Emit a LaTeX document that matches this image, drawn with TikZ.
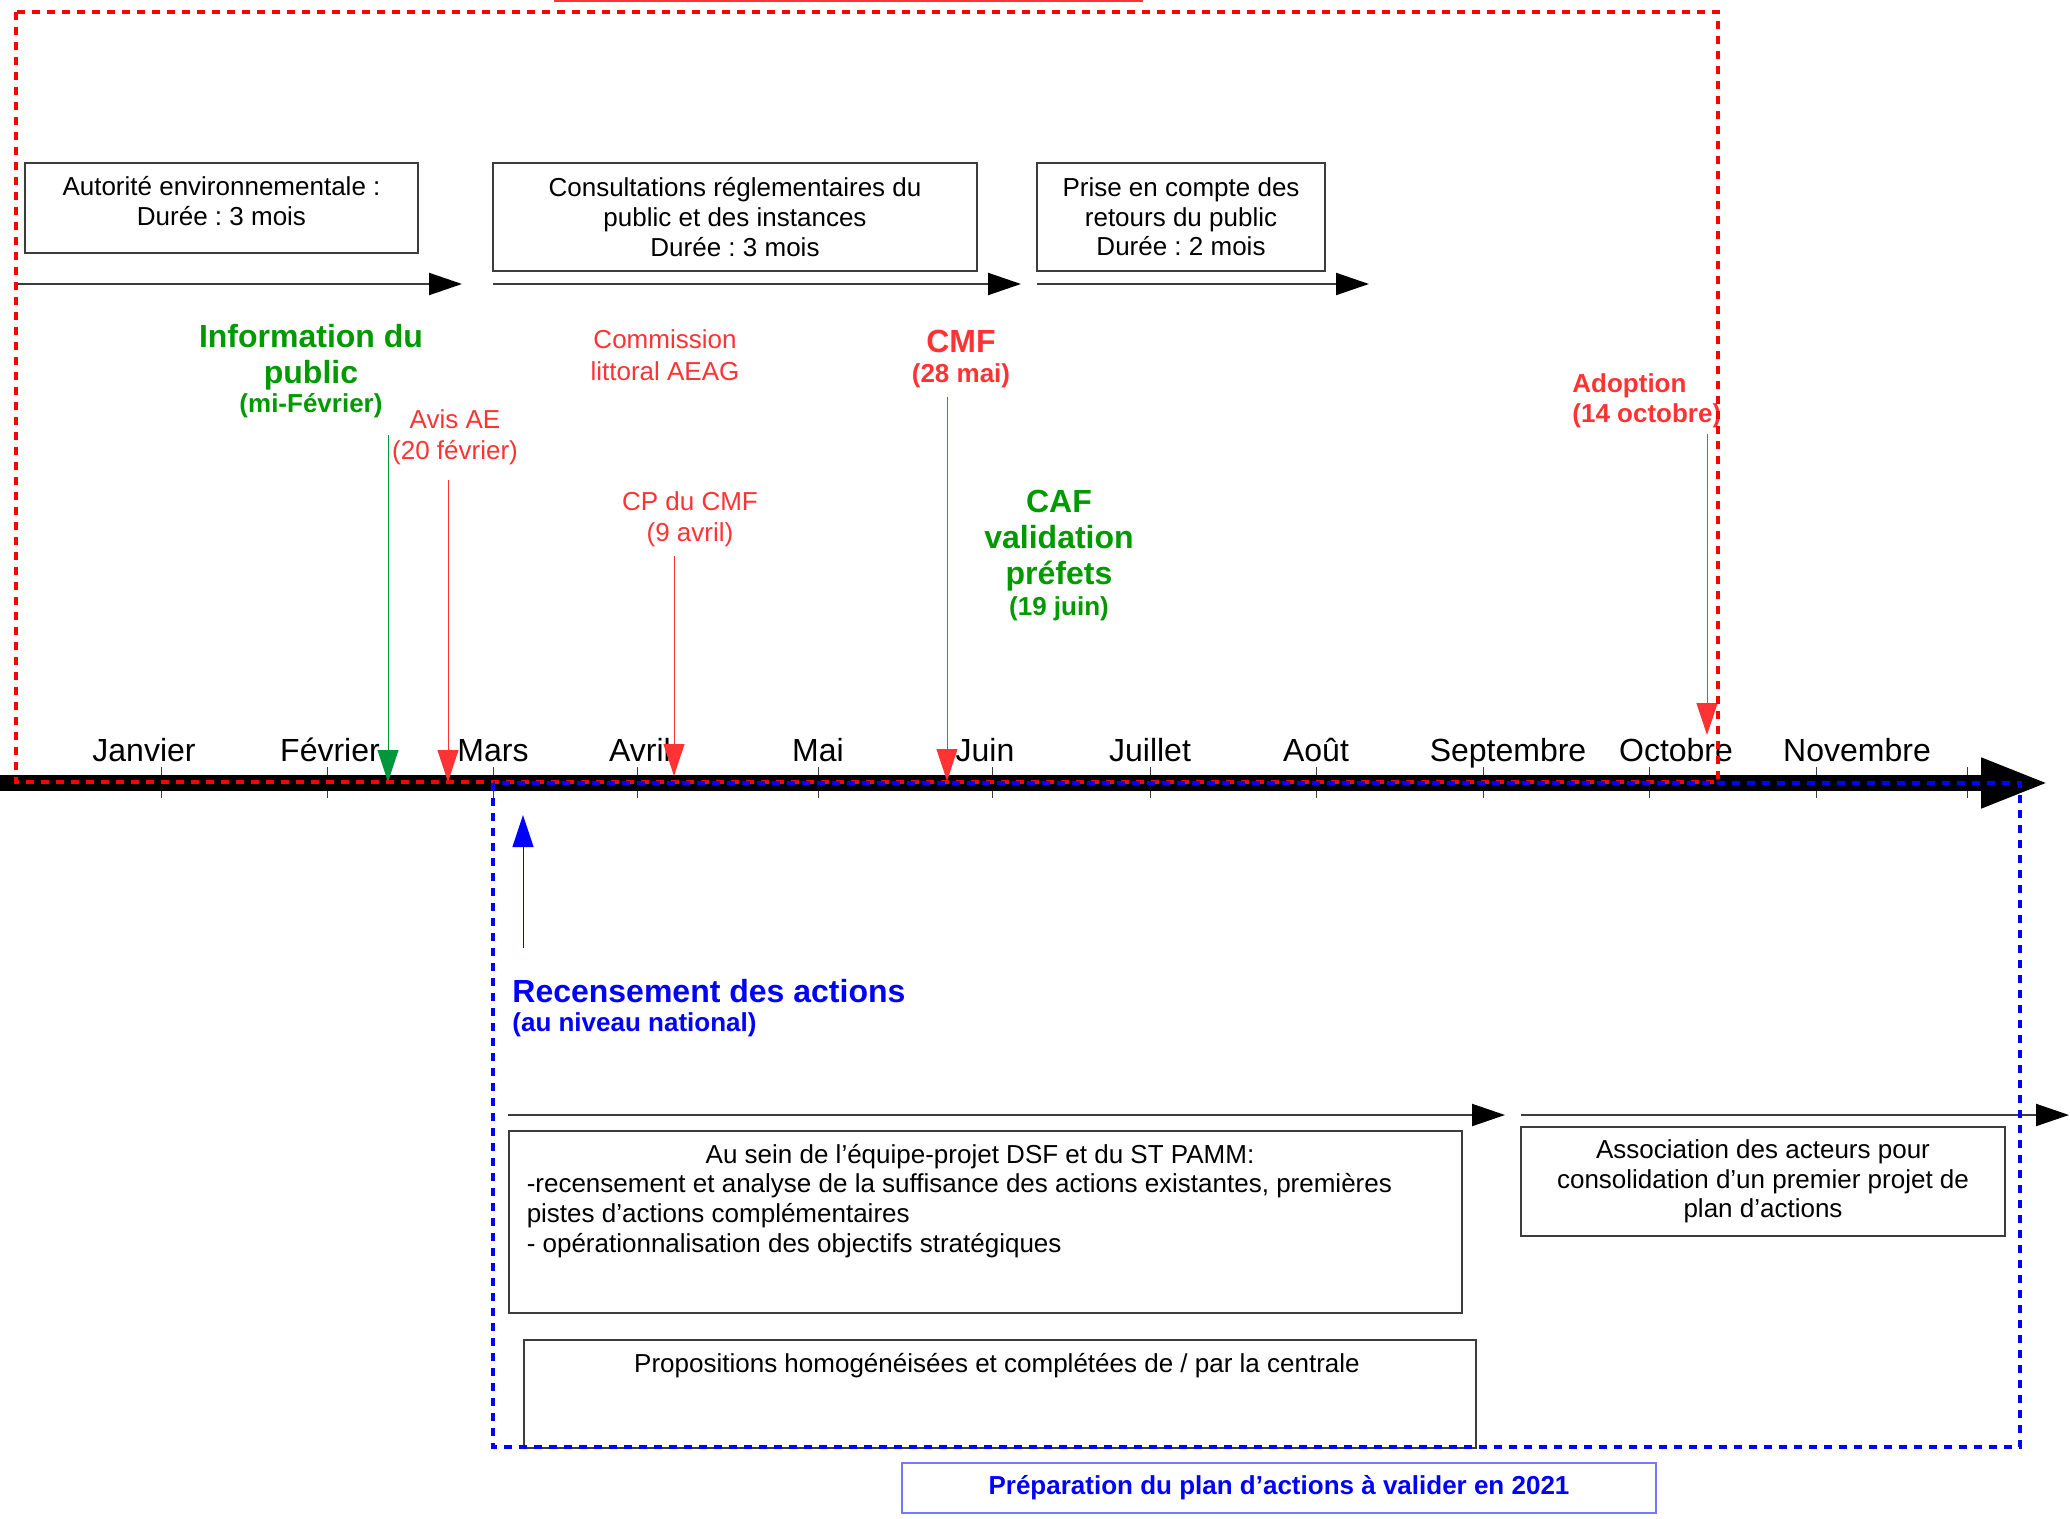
\documentclass[tikz,border=0pt]{standalone}
\usepackage{fontspec}
\setmainfont{Liberation Sans}
\usetikzlibrary{arrows.meta, positioning, calc}
\definecolor{evred}{RGB}{255,51,51}
\definecolor{evgreen}{RGB}{0,153,0}
\definecolor{argreen}{RGB}{0,150,60}
\definecolor{evblue}{RGB}{0,0,255}
\definecolor{boxgray}{RGB}{60,60,60}
\definecolor{lilac}{RGB}{120,120,255}
\newcommand{\txtn}{\fontsize{13}{14.8}\selectfont}
\newcommand{\txtb}{\fontsize{16}{18}\selectfont\bfseries}
\frenchspacing

\begin{document}
\begin{tikzpicture}[
        x=0.5pt, y=-0.5pt,
        box/.style={draw=boxgray, line width=0.75pt, inner sep=0pt, align=center, font=\txtn},
        txt/.style={inner sep=0pt, align=center, font=\fontsize{13}{15.5}\selectfont},
        month/.style={inner sep=0pt, font=\fontsize{16}{18}\selectfont},
        period/.style={draw=boxgray, line width=1pt, -{Triangle[length=16.5pt, width=11pt, color=black]}},
        event/.style={line width=0.5pt, -{Triangle[length=16pt, width=10.5pt]}},
        timeaxis/.style={line width=8pt, -{Triangle[length=34pt, width=23pt]}},
        tickmark/.style={draw=boxgray, line width=0.5pt},
        cadre/.style={line width=2pt, dash pattern=on 4pt off 3.5pt}
    ]
    \useasboundingbox (0,0) rectangle (2070,1519);
    \draw[evred, line width=1pt] (554,1) -- (1143,1);

    \node[box, minimum width=196.5pt, minimum height=45pt] (aut) at (221.5,208) {Autorité environnementale :\\Durée : 3 mois\\[-8pt]};
    \node[box, minimum width=242pt, minimum height=54pt] (cons) at (735,217) {Consultations réglementaires du\\public et des instances\\Durée : 3 mois};
    \node[box, minimum width=144pt, minimum height=54pt] (prise) at (1181,217) {Prise en compte des\\retours du public\\Durée : 2 mois};

    \coordinate (t1a) at (15,284);   \coordinate (t1b) at (462,284);
    \coordinate (t2a) at (493,284);  \coordinate (t2b) at (1021,284);
    \coordinate (t3a) at (1037,284); \coordinate (t3b) at (1369,284);
    \draw[period] (t1a) -- (t1b);
    \draw[period] (t2a) -- (t2b);
    \draw[period] (t3a) -- (t3b);

    \foreach \t in {161,327,493,637,818,992,1150,1316,1483,1649,1816,1967}
        \draw[tickmark] (\t,767) -- (\t,798);
    \coordinate (ax0) at (0,783);
    \coordinate (ax1) at (2049,783);
    \draw[timeaxis] (ax0) -- (ax1);
    \foreach \c/\m [count=\i] in {144/Janvier, 330/Février, 493/Mars, 640/Avril, 818/Mai, 985/Juin, 1150/Juillet, 1316/Août, 1508/Septembre, 1676/Octobre, 1857/Novembre}
        \node[month, anchor=base] (mois\i) at (\c,761) {\m};

    \node[txt, text=evgreen, font=\txtb] (info) at (311,371) {Information du\\public\\[-3.5pt]{\fontsize{13}{15}\selectfont (mi-Février)}};
    \node[txt, text=evred] (comm) at (665,355) {Commission\\[0.5pt]littoral AEAG};
    \node[txt, text=evred, font=\txtb] (cmf) at (961,359) {CMF\\[-3pt]{\fontsize{13}{15}\selectfont (28 mai)}};
    \node[txt, text=evred] (avis) at (455,437) {Avis AE\\(20 février)};
    \node[txt, text=evred] (cp) at (690,519) {CP du CMF\\(9 avril)};
    \node[txt, text=evgreen, font=\txtb] (caf) at (1059,556) {CAF\\validation\\préfets\\[-2.5pt]{\fontsize{13}{15}\selectfont (19 juin)}};
    \node[txt, text=evred, font=\fontsize{13}{15}\selectfont\bfseries, align=left, anchor=west] (adop) at (1572,401) {Adoption\\(14 octobre)};

    \coordinate (e1a) at (388,435);  \coordinate (e1b) at (388,782);
    \coordinate (e2a) at (448,480);  \coordinate (e2b) at (448,782);
    \coordinate (e3a) at (674,556);  \coordinate (e3b) at (674,776);
    \coordinate (e4a) at (947,397);  \coordinate (e4b) at (947,781);
    \coordinate (e5a) at (1707,434); \coordinate (e5b) at (1707,735);
    \coordinate (e6a) at (523,948);  \coordinate (e6b) at (523,815);
    \draw[event, argreen] (e1a) -- (e1b);
    \draw[event, evred] (e2a) -- (e2b);
    \draw[event, evred] (e3a) -- (e3b);
    \draw[event, evred] (e4a) -- (e4b);
    \draw[event, evred] (e5a) -- (e5b);
    \draw[event, evblue] (e6a) -- (e6b);

    \node[txt, text=evblue, font=\txtb, align=left, anchor=west] (rec) at (512,1008) {Recensement des actions\\[-3.5pt]{\fontsize{13}{15}\selectfont (au niveau national)}};

    \coordinate (t4a) at (508,1115);  \coordinate (t4b) at (1505,1115);
    \coordinate (t5a) at (1521,1115); \coordinate (t5b) at (2069,1115);
    \draw[period] (t4a) -- (t4b);
    \draw[period] (t5a) -- (t5b);

    \node[box, minimum width=476.5pt, minimum height=91pt, anchor=north west] (sein) at (508,1130) {};
    \node[txt, anchor=base] (sein-h) at (980,1163) {Au sein de l’équipe-projet DSF et du ST PAMM:};
    \node[box, draw=none, align=left, anchor=base west] (sein-l) at (526,1252) {-recensement et analyse de la suffisance des actions existantes, premières\\pistes d’actions complémentaires\\- opérationnalisation des objectifs stratégiques};
    \node[box, minimum width=476pt, minimum height=54pt, anchor=north west] (prop) at (523,1339) {};
    \node[txt, anchor=base] (prop-t) at (997,1372) {Propositions homogénéisées et complétées de / par la centrale};
    \node[box, minimum width=242pt, minimum height=54.5pt] (assoc) at (1763,1181.5) {Association des acteurs pour\\consolidation d’un premier projet de\\plan d’actions};

    \draw[cadre, red] (16,12) rectangle (1718,782);
    \draw[cadre, evblue] (493,783) rectangle (2020,1447);

    \node[draw=lilac, line width=0.75pt, minimum width=377pt, minimum height=25pt, inner sep=0pt, text=evblue, font=\fontsize{13}{15}\selectfont\bfseries] (prep) at (1279,1488) {Préparation du plan d’actions à valider en 2021};
\end{tikzpicture}
\end{document}
